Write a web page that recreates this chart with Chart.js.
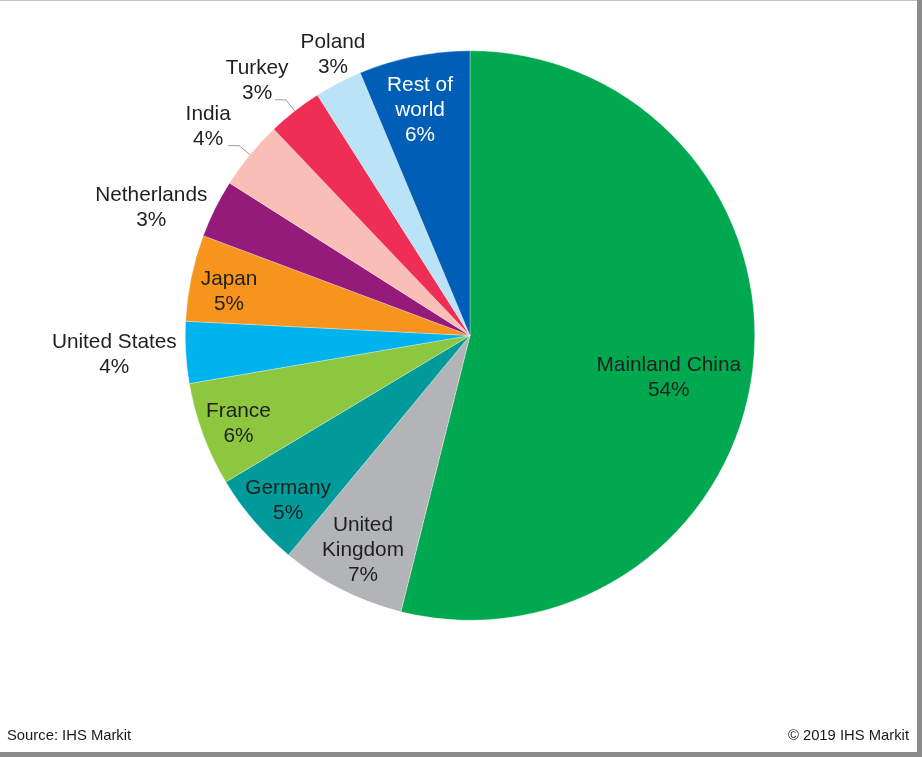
<!DOCTYPE html>
<html>
<head>
<meta charset="utf-8">
<script src="https://cdn.jsdelivr.net/npm/chart.js@4/dist/chart.umd.min.js"></script>
<style>
  html, body { margin: 0; padding: 0; background: #ffffff; }
  #wrap { width: 922px; height: 757px; position: relative; }
</style>
</head>
<body>
<div id="wrap"><canvas id="c" width="922" height="757"></canvas></div>
<script>
// ---- Data ----
const categories = ['Mainland China', 'United\nKingdom', 'Germany', 'France', 'United States', 'Japan', 'Netherlands', 'India', 'Turkey', 'Poland', 'Rest of\nworld'];
const shares = [53.9, 7.1, 5.4, 5.9, 3.5, 4.9, 3.3, 3.9, 3.1, 2.7, 6.3];
const shownPct = [54, 7, 5, 6, 4, 5, 3, 4, 3, 3, 6];
const sliceColors = ['#00A94F', '#B3B4B7', '#009A9A', '#8DC63F', '#00B3EF', '#F7941D', '#951B7B', '#F9BEB6', '#EE2E54', '#BAE3F8', '#005EB6'];
const textColors = ['#1f1f1f', '#1f1f1f', '#1f1f1f', '#1f1f1f', '#1f1f1f', '#1f1f1f', '#1f1f1f', '#1f1f1f', '#1f1f1f', '#1f1f1f', '#ffffff'];
const sourceText = 'Source: IHS Markit';
const copyrightText = '\u00A9 2019 IHS Markit';

// label placement: radial factor (of radius) and angular shift (deg) from slice mid-angle
const labelRadial = [0.714, 0.842, 0.862, 0.87, 1.251, 0.86, 1.206, 1.177, 1.166, 1.096, 0.809];
const labelShift = [5.1, -0.3, -1.5, -0.5, 0.3, -1.4, -4.6, -0.8, -1.9, 1.5, -1.2];
const leaderFor = [false, false, false, false, false, false, false, true, true, false, false];

const FONT = '"Liberation Sans", Arial, Helvetica, sans-serif';

const labelPlugin = {
  id: 'labelPlugin',
  afterDatasetsDraw(chart) {
    const ctx = chart.ctx;
    const meta = chart.getDatasetMeta(0);
    ctx.save();
    meta.data.forEach((arc, i) => {
      const p = arc.getProps(['x', 'y', 'startAngle', 'endAngle', 'outerRadius'], true);
      const mid = (p.startAngle + p.endAngle) / 2;
      const a = mid + labelShift[i] * Math.PI / 180;
      const r = p.outerRadius * labelRadial[i];
      const cx = p.x + Math.cos(a) * r;
      const cy = p.y + Math.sin(a) * r;
      const lines = categories[i].split('\n').concat([shownPct[i] + '%']);
      const lh = 25;
      ctx.font = '20.8px ' + FONT;
      ctx.fillStyle = textColors[i];
      ctx.textAlign = 'center';
      ctx.textBaseline = 'middle';
      const top = cy - (lines.length - 1) * lh / 2;
      lines.forEach((t, k) => ctx.fillText(t, cx, top + k * lh));
      if (leaderFor[i]) {
        const ex = p.x + Math.cos(mid) * p.outerRadius;
        const ey = p.y + Math.sin(mid) * p.outerRadius;
        const bx = p.x + Math.cos(mid) * p.outerRadius * 1.05;
        const by = p.y + Math.sin(mid) * p.outerRadius * 1.05;
        ctx.strokeStyle = '#9a9a9a';
        ctx.lineWidth = 1;
        ctx.beginPath();
        ctx.moveTo(ex, ey);
        ctx.lineTo(bx, by);
        ctx.lineTo(bx - 11, by);
        ctx.stroke();
      }
    });
    ctx.restore();
  },
  afterDraw(chart) {
    const ctx = chart.ctx;
    const W = chart.width, H = chart.height;
    ctx.save();
    ctx.font = '14.8px ' + FONT;
    ctx.fillStyle = '#1a1a1a';
    ctx.textBaseline = 'alphabetic';
    ctx.textAlign = 'left';
    ctx.fillText(sourceText, 7, 740);
    ctx.textAlign = 'right';
    ctx.fillText(copyrightText, 909, 740);
    // frame
    ctx.fillStyle = '#c4c4c4';
    ctx.fillRect(0, 0, W, 1);
    ctx.fillStyle = '#8c8c8c';
    ctx.fillRect(917, 0, W - 917, H);
    ctx.fillRect(0, 752, W, H - 752);
    ctx.restore();
  }
};

new Chart(document.getElementById('c'), {
  type: 'pie',
  data: {
    labels: categories.map(c => c.replace('\n', ' ')),
    datasets: [{
      data: shares,
      backgroundColor: sliceColors,
      borderColor: 'rgba(255,255,255,0.6)',
      borderWidth: 0.5
    }]
  },
  options: {
    responsive: false,
    animation: false,
    devicePixelRatio: 1,
    layout: { padding: { left: 185, top: 50, right: 167, bottom: 136 } },
    plugins: {
      legend: { display: false },
      tooltip: { enabled: false }
    }
  },
  plugins: [labelPlugin]
});
</script>
</body>
</html>
